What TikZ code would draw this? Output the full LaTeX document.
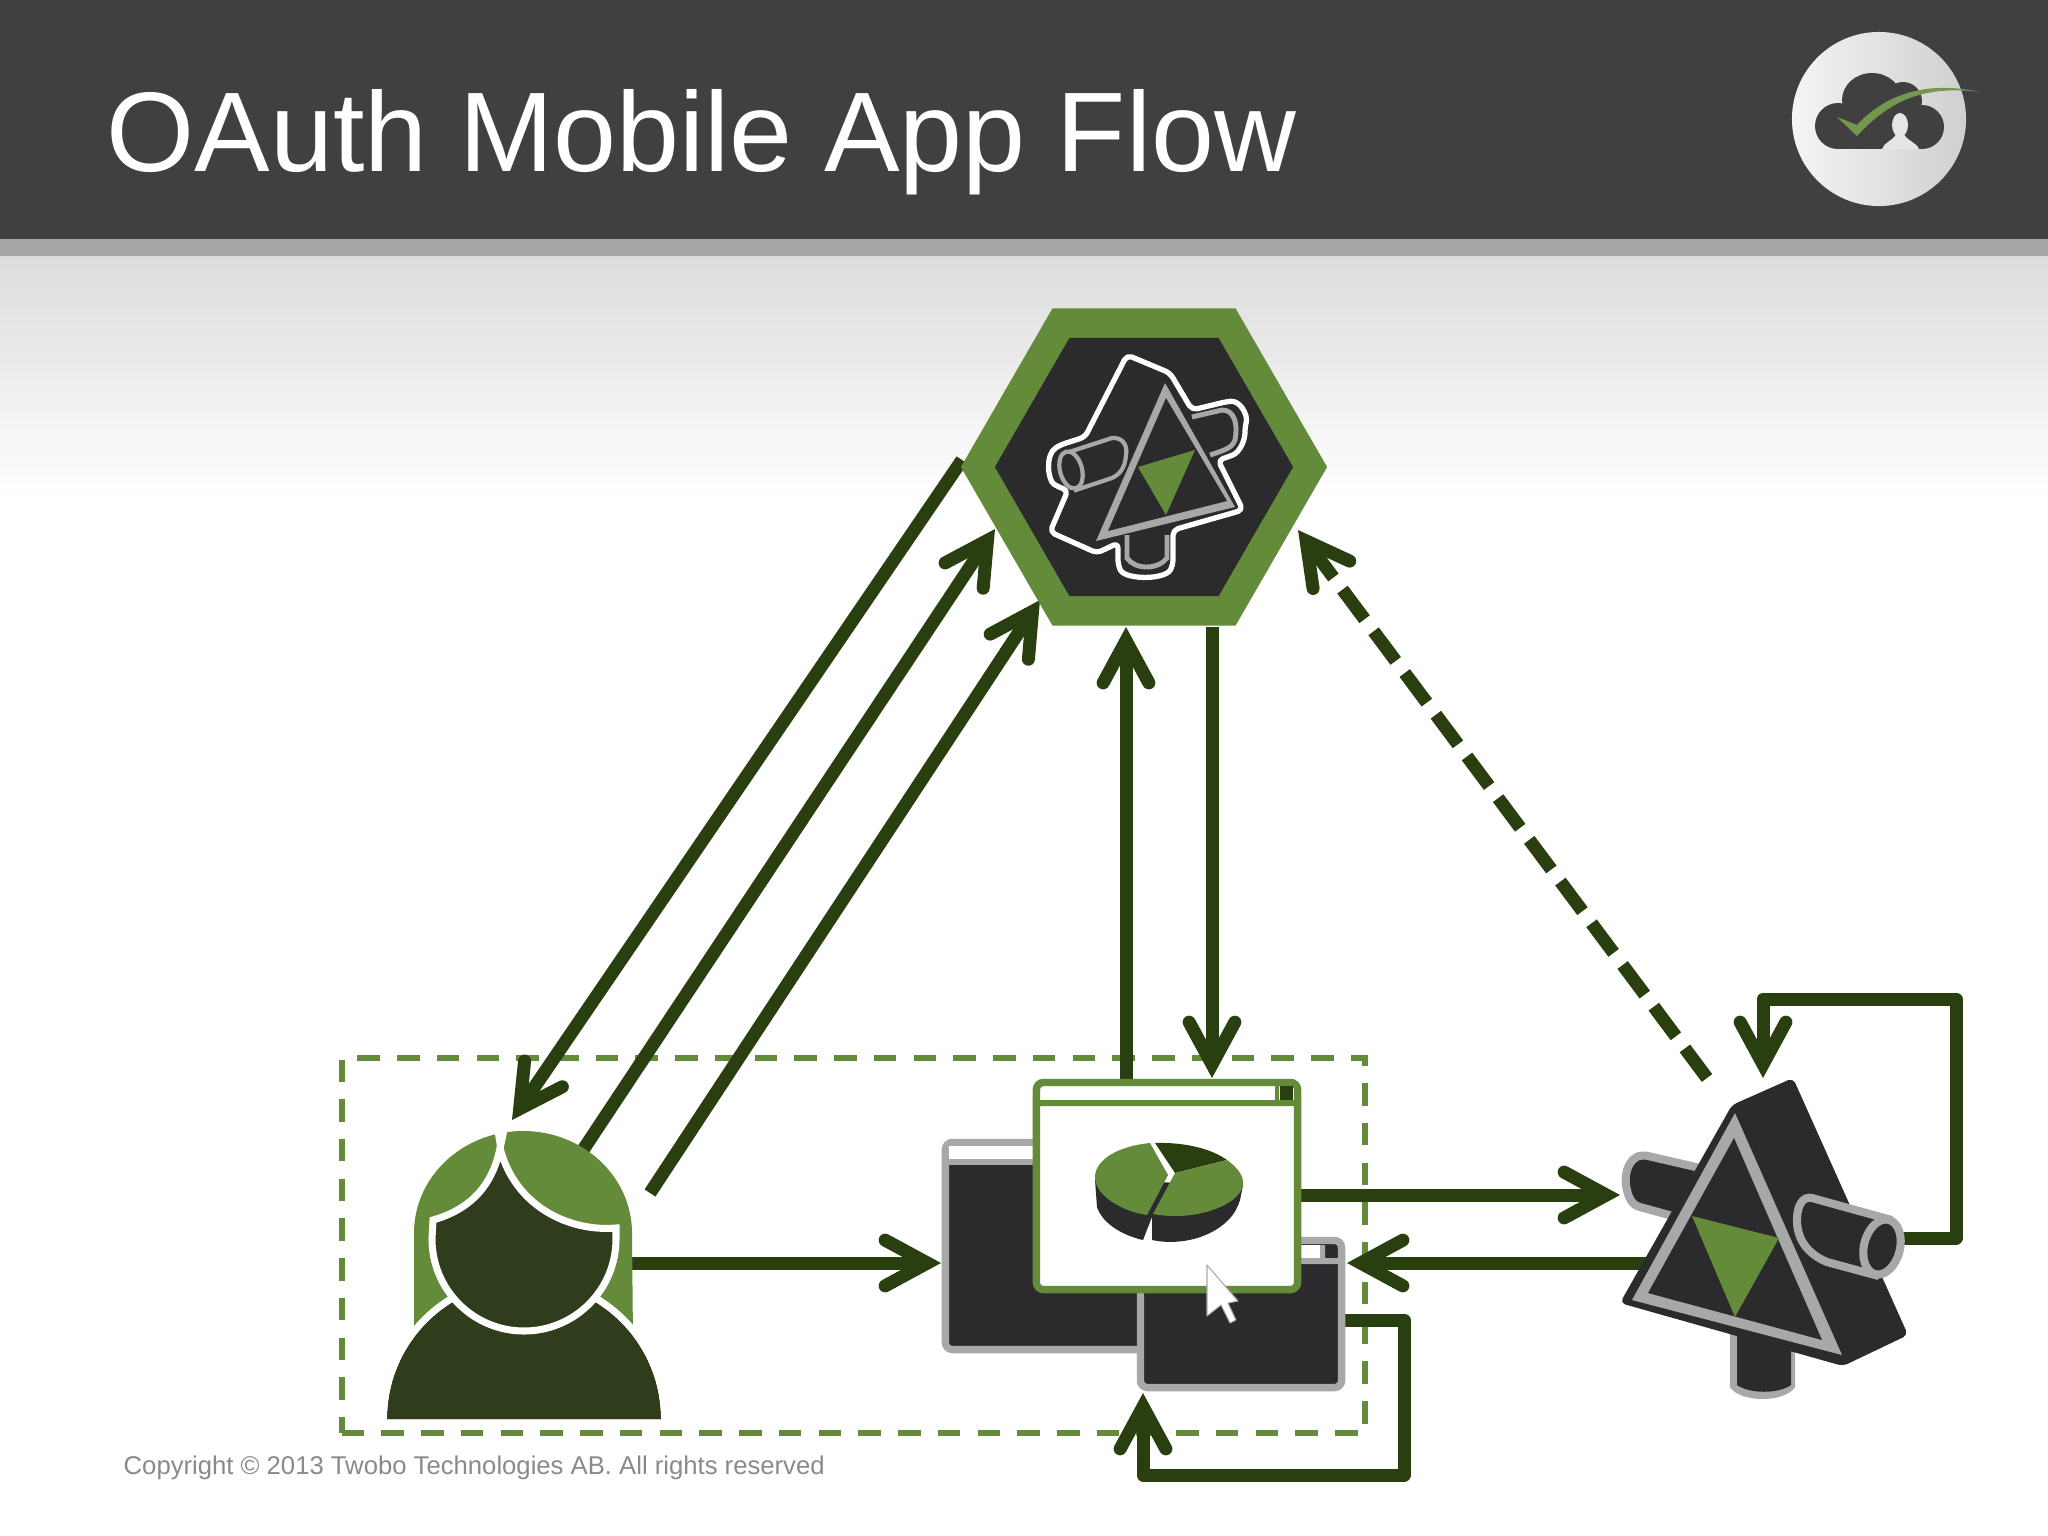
\documentclass[tikz,border=0pt]{standalone}
\usepackage{fontspec}
\setmainfont{Liberation Sans}
\usetikzlibrary{arrows.meta,shapes.geometric}
\definecolor{barDark}{HTML}{404040}
\definecolor{barGrey}{HTML}{A6A6A6}
\definecolor{fadeGrey}{HTML}{DCDCDC}
\definecolor{leaf}{HTML}{648B3A}
\definecolor{flowDark}{HTML}{2A3F0F}
\definecolor{personDark}{HTML}{2F3D1C}
\definecolor{iconDark}{HTML}{2B2A2D}
\definecolor{iconGrey}{HTML}{A8A7AA}
\definecolor{noteGrey}{HTML}{8A8A8E}
\begin{document}
\begin{tikzpicture}[x=0.01cm,y=-0.01cm,
   flow/.style={draw=flowDark,line width=3.7pt,line join=round,
     -{Straight Barb[length=12pt,width=13pt,line cap=round,line join=miter]}},
   flowdash/.style={flow,dash pattern=on 10.5pt off 4.3pt},
   scopebox/.style={draw=leaf,line width=1.6pt,dash pattern=on 6.4pt off 4.9pt,inner sep=0pt,outer sep=0pt},
   hexa/.style={regular polygon,regular polygon sides=6,inner sep=0pt,outer sep=0pt},
   appwin/.style={rectangle,line width=2.1pt,rounded corners=2pt,inner sep=0pt,outer sep=0pt}]
\useasboundingbox (0,0) rectangle (2048,1536);
\fill[white] (0,0) rectangle (2048,1536);
\shade[top color=fadeGrey,bottom color=white] (0,256) rectangle (2048,500);
\fill[barGrey] (0,239) rectangle (2048,256);
\fill[barDark] (0,0) rectangle (2048,239);
\node[anchor=base west,inner sep=0pt,text=white,font=\fontsize{32.2}{40}\selectfont] (title) at (106,171) {OAuth Mobile App Flow};
\node[circle,minimum size=1.74cm,inner sep=0pt,left color=white!96!black,right color=iconGrey!55!white] (logo) at (1879,119) {};
\fill[barDark] (1838,126) circle (23);
\fill[barDark] (1872,100) ellipse [x radius=30,y radius=27];
\fill[barDark] (1903,101) circle (19);
\fill[barDark] (1922,127) circle (22);
\fill[barDark] (1838,110) rectangle (1922,149);
\fill[white!90!black] (1900,125) ellipse [x radius=8,y radius=12];
\fill[white!90!black] (1882,149) .. controls (1884,142) and (1893,141) .. (1896,134) -- (1904,134) .. controls (1907,141) and (1916,142) .. (1919,149) -- cycle;
\fill[leaf!90!white] (1837,117) -- (1857,125) .. controls (1885,95) and (1925,80) .. (1980,92) .. controls (1925,85) and (1890,100) .. (1857,136) -- cycle;
\node[scopebox,minimum width=10.23cm,minimum height=3.75cm] (device) at (853.5,1245.5) {};
\coordinate (authzLeft) at (962,460);
\coordinate (authzInA) at (995,529);
\coordinate (authzInB) at (1040,600);
\coordinate (authzInC) at (1126,627);
\coordinate (authzOut) at (1212,627);
\coordinate (authzInD) at (1298,530);
\coordinate (userTop) at (512,1120);
\coordinate (userOutA) at (575,1162);
\coordinate (userOutB) at (650,1193);
\coordinate (userOutC) at (625,1263);
\coordinate (appTop) at (1126,1082);
\coordinate (appIn) at (1212,1078);
\coordinate (appOut) at (1297,1195);
\coordinate (backIn) at (941,1263);
\coordinate (sideIn) at (1347,1263);
\coordinate (sideOut) at (1340,1320);
\coordinate (sideLoop) at (1143,1393);
\coordinate (resourceIn) at (1620,1195);
\coordinate (resourceOut) at (1660,1263);
\coordinate (resourceDash) at (1707,1078);
\coordinate (resourceLoop) at (1763,1078);
\coordinate (resourceRight) at (1895,1238);
\draw[flow] (authzLeft) -- (userTop);
\draw[flow] (userOutA) -- (authzInA);
\draw[flow] (userOutB) -- (authzInB);
\draw[flow] (appTop) -- (authzInC);
\draw[flow] (authzOut) -- (appIn);
\draw[flowdash] (resourceDash) -- (authzInD);
\draw[flow] (userOutC) -- (backIn);
\draw[flow] (appOut) -- (resourceIn);
\draw[flow] (resourceOut) -- (sideIn);
\draw[flow] (resourceRight) -- (1956,1238) -- (1956,999) -- (1763,999) -- (resourceLoop);
\draw[flow] (sideOut) -- (1404,1320) -- (1404,1475) -- (1143,1475) -- (sideLoop);
\node[hexa,fill=leaf,minimum size=3.66cm] (authz) at (1144,467) {};
\node[hexa,fill=iconDark,minimum size=2.98cm] (authzCore) at (1144,467) {};
\fill[iconDark,draw=white,line width=1.5pt,rounded corners=1.5pt,line join=round] (1127,355) -- (1170,373) -- (1192,410) -- (1225,402) .. controls (1240,400) and (1248,415) .. (1245,427) .. controls (1245,440) and (1240,452) .. (1228,457) -- (1218,460) -- (1243,510) -- (1173,530) -- (1173,565) .. controls (1165,580) and (1125,580) .. (1118,565) -- (1118,543) -- (1097,553) -- (1050,532) -- (1068,490) -- (1058,487) .. controls (1048,480) and (1045,455) .. (1060,445) -- (1085,437) -- cycle;
\draw[iconGrey,line width=1.4pt] (1192,417) -- (1222,410) .. controls (1235,410) and (1238,425) .. (1235,440) .. controls (1232,448) and (1225,450) .. (1210,455);
\draw[iconGrey,line width=1.4pt] (1127,535) -- (1127,558) .. controls (1135,570) and (1158,570) .. (1167,558) -- (1167,535);
\fill[iconGrey] (1165,383) -- (1235,507) -- (1096,541) -- cycle;
\fill[iconDark] (1166,398) -- (1227,501) -- (1108,531) -- cycle;
\fill[leaf] (1138,467) -- (1195,450) -- (1166,515) -- cycle;
\fill[iconDark,draw=iconGrey,line width=1.2pt] (1066,453) -- (1112,438) .. controls (1122,437) and (1128,445) .. (1126,455) .. controls (1125,468) and (1120,474) .. (1112,478) -- (1076,490) -- cycle;
\draw[iconGrey,line width=1.2pt,fill=iconDark] (1071,470) ellipse [x radius=11,y radius=19,rotate=15];
\fill[leaf] (414,1340) -- (414,1233) arc (180:360:109 and 102) -- (633,1340) -- cycle;
\fill[personDark] (387,1419) arc (180:360:137) -- cycle;
\draw[white,line width=2pt] (383.5,1419) arc (180:360:140.5);
\fill[personDark] (387,1419) -- (661,1419) -- (655,1380) -- (393,1380) -- cycle;
\fill[white] (494,1128) -- (508,1128) -- (500,1165) -- cycle;
\fill[personDark,draw=white,line width=2pt] (500,1148) .. controls (492,1188) and (468,1210) .. (433,1220) -- (432,1239) arc (180:0:92) -- (616,1228) .. controls (570,1232) and (515,1207) .. (500,1148) -- cycle;
\node[appwin,draw=iconGrey,fill=iconDark,minimum width=2.61cm,minimum height=2.07cm] (backWin) at (1076,1246) {};
\fill[white] (949,1146) rectangle (1100,1159);
\fill[iconGrey] (949,1159) rectangle (1100,1165);
\node[appwin,draw=iconGrey,fill=iconDark,minimum width=2.01cm,minimum height=1.47cm] (sideWin) at (1241,1314) {};
\fill[white] (1144,1245) rectangle (1320,1258);
\fill[iconGrey] (1144,1258) rectangle (1338,1264) (1320,1245) rectangle (1325,1258);
\node[appwin,draw=leaf,fill=white,minimum width=2.61cm,minimum height=2.07cm] (frontWin) at (1167,1186) {};
\fill[leaf] (1039,1100) rectangle (1294,1106) (1275,1086) rectangle (1279,1100);
\fill[flowDark] (1280,1086) rectangle (1293,1100);
\fill[iconDark] (1095,1180) -- (1097,1207) .. controls (1103,1225) and (1125,1236) .. (1143,1240) -- (1152,1217) -- (1152,1240) .. controls (1190,1248) and (1232,1230) .. (1240,1200) -- (1243,1185) -- cycle;
\fill[leaf] (1150,1143) .. controls (1118,1146) and (1095,1160) .. (1095,1177) .. controls (1095,1197) and (1125,1212) .. (1147,1215) -- (1168,1175) -- cycle;
\fill[flowDark] (1155,1143) .. controls (1185,1142) and (1212,1149) .. (1227,1160) -- (1175,1173) -- cycle;
\fill[leaf] (1227,1160) .. controls (1238,1168) and (1244,1176) .. (1243,1185) .. controls (1240,1205) and (1195,1222) .. (1153,1214) -- (1175,1173) -- cycle;
\filldraw[white,draw=iconGrey,line width=0.3pt,line join=round] (1207,1265) -- (1207,1316) -- (1221,1305) -- (1230,1323) -- (1236,1320) -- (1228,1303) -- (1238,1301) -- cycle;
\fill[iconGrey] (1730,1333) -- (1730,1387) .. controls (1740,1403) and (1785,1403) .. (1795,1387) -- (1795,1340) -- cycle;
\fill[iconDark] (1737,1333) -- (1737,1385) .. controls (1750,1394) and (1778,1394) .. (1791,1385) -- (1791,1340) -- cycle;
\fill[iconDark,draw=iconGrey,line width=2.3pt] (1700,1168) -- (1648,1156) .. controls (1630,1152) and (1624,1172) .. (1626,1185) .. controls (1628,1198) and (1632,1205) .. (1640,1207) -- (1680,1218) -- cycle;
\fill[iconDark,rounded corners=1.5pt] (1732,1105) -- (1793,1078) -- (1908,1335) -- (1843,1366) -- (1620,1303) -- cycle;
\fill[iconGrey] (1735,1113) -- (1842,1355) -- (1632,1300) -- cycle;
\fill[iconDark] (1734,1138) -- (1822,1340) -- (1648,1293) -- cycle;
\fill[leaf] (1692,1216) -- (1779,1238) -- (1735,1317) -- cycle;
\fill[iconDark,draw=iconGrey,line width=2.3pt] (1812,1198) -- (1888,1219) -- (1875,1275) -- (1827,1262) .. controls (1808,1254) and (1797,1240) .. (1797,1220) .. controls (1797,1205) and (1803,1196) .. (1812,1198) -- cycle;
\draw[iconGrey,line width=2.3pt,fill=iconDark] (1882,1247) ellipse [x radius=18,y radius=28,rotate=-14];
\node[anchor=base west,inner sep=0pt,text=noteGrey,font=\fontsize{7.3}{9}\selectfont] (note) at (123,1474) {Copyright © 2013 Twobo Technologies AB. All rights reserved};
\end{tikzpicture}
\end{document}
